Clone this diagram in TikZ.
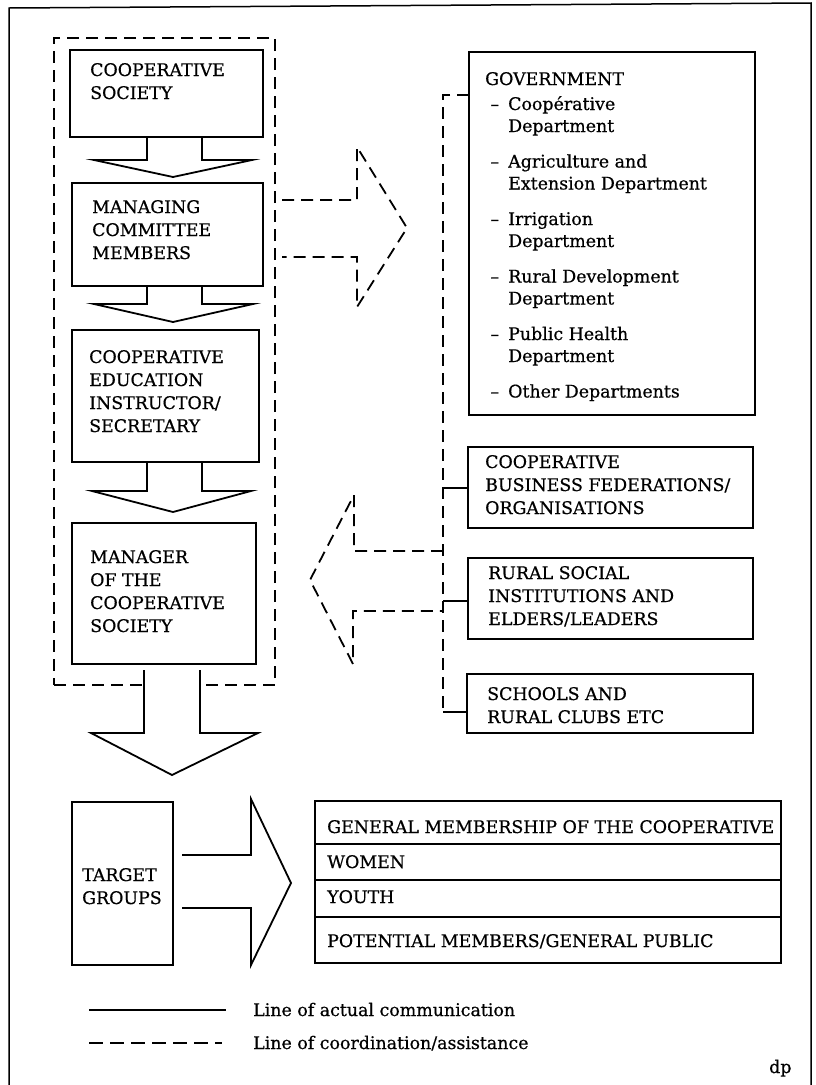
\documentclass[tikz,border=0pt]{standalone}
\usepackage{fontspec}
\setmainfont{DejaVu Serif}[FakeBold=0.6]
% left-aligned block of lines whose baseline is the first line's baseline
\newcommand\mlines[1]{\begin{tabular}[t]{@{}l@{}}#1\end{tabular}}
\newcommand\itemdash{\llap{–\hspace{9pt}}}

\begin{document}
\begin{tikzpicture}[x=1pt,y=-1pt,
  box/.style={draw, line width=2pt, anchor=north west, inner sep=0pt, outer sep=0pt},
  group/.style={draw, line width=1.8pt, dash pattern=on 12pt off 7pt, anchor=north west, inner sep=0pt, outer sep=0pt},
  txt/.style={inner sep=0pt, anchor=base west, font=\fontsize{17.4}{23}\selectfont},
  flow/.style={line width=1.8pt, line join=miter},
  coord/.style={line width=1.8pt, dash pattern=on 12pt off 7pt},
  frame/.style={line width=1.5pt}]

\useasboundingbox (0,0) rectangle (815,1085);

% page frame
\draw[frame] (9,1085) -- (9,8) -- (811,3) -- (811,1085);

% cooperative group (dashed)
\node[group, minimum width=221pt, minimum height=647pt] (grp) at (54,38) {};

% boxes of the cooperative chain
\node[box, minimum width=193pt, minimum height=87pt]  (b1) at (70,50) {};
\node[box, minimum width=191pt, minimum height=103pt] (b2) at (72,183) {};
\node[box, minimum width=187pt, minimum height=132pt] (b3) at (72,330) {};
\node[box, minimum width=184pt, minimum height=141pt] (b4) at (72,523) {};

\node[txt] (t1) at (90,76)  {\mlines{COOPERATIVE\\SOCIETY}};
\node[txt] (t2) at (92,213) {\mlines{MANAGING\\COMMITTEE\\MEMBERS}};
\node[txt] (t3) at (89,363) {\mlines{COOPERATIVE\\EDUCATION\\INSTRUCTOR/\\SECRETARY}};
\node[txt] (t4) at (90,563) {\mlines{MANAGER\\OF THE\\COOPERATIVE\\SOCIETY}};

% block arrows between the chain boxes
\draw[flow] (147,137) -- (147,160) -- (94,160) -- (173,177) -- (252,160) -- (202,160) -- (202,137);
\draw[flow] (147,286) -- (147,304) -- (94,304) -- (173,322) -- (253,304) -- (202,304) -- (202,286);
\draw[flow] (147,462) -- (147,491) -- (92,491) -- (173,512) -- (251,491) -- (202,491) -- (202,462);

% big arrow down to the target groups
\path[fill=white] (144,670) -- (144,733) -- (91,733) -- (172,775) -- (258,733) -- (200,733) -- (200,670) -- cycle;
\draw[flow] (144,670) -- (144,733) -- (91,733) -- (172,775) -- (258,733) -- (200,733) -- (200,670);

% partner organisations
\node[box, minimum width=286pt, minimum height=363pt] (gov)    at (469,52)  {};
\node[box, minimum width=285pt, minimum height=81pt]  (coop)   at (468,447) {};
\node[box, minimum width=285pt, minimum height=81pt]  (rural)  at (468,558) {};
\node[box, minimum width=286pt, minimum height=59pt]  (school) at (467,674) {};

\node[txt] (tgov) at (485,85) {GOVERNMENT};
\node[txt, font=\fontsize{17.4}{22}\selectfont] (tgovlist) at (508,110) {\mlines{%
  \itemdash Coopérative\\Department\\[13.5pt]
  \itemdash Agriculture and\\Extension Department\\[13.5pt]
  \itemdash Irrigation\\Department\\[13.5pt]
  \itemdash Rural Development\\Department\\[13.5pt]
  \itemdash Public Health\\Department\\[13.5pt]
  \itemdash Other Departments}};
\node[txt] (tcoop)   at (485,468) {\mlines{COOPERATIVE\\BUSINESS FEDERATIONS/\\ORGANISATIONS}};
\node[txt] (trural)  at (488,579) {\mlines{RURAL SOCIAL\\INSTITUTIONS AND\\ELDERS/LEADERS}};
\node[txt] (tschool) at (487,700) {\mlines{SCHOOLS AND\\RURAL CLUBS ETC}};

% coordination bus linking the partners
\coordinate (busTop)    at (443,95);
\coordinate (busEnd)    at (443,712);
\coordinate (busCoop)   at (443,488);
\coordinate (busRural)  at (443,601);
\draw[coord] (gov.west |- busTop) -- (busTop) -- (busEnd);
\draw[flow] (busEnd) -- (busEnd -| school.west);
\draw[flow] (busCoop) -- (busCoop -| coop.west);
\draw[flow] (busRural) -- (busRural -| rural.west);

% dashed block arrows (coordination / assistance)
\draw[coord] (282,200) -- (357,200) -- (357,147) -- (407,228) -- (357,307) -- (357,257) -- (282,257);
\draw[coord] (443,551) -- (354,551) -- (354,495) -- (310,580) -- (353,664) -- (353,611) -- (443,611);

% target groups
\node[box, minimum width=101pt, minimum height=163pt] (target) at (72,802) {};
\node[txt] (ttarget) at (82,881) {\mlines{TARGET\\GROUPS}};

\draw[flow] (182,855) -- (251,855) -- (251,799) -- (291,883) -- (251,965) -- (251,908) -- (182,908);

\node[box, minimum width=466pt, minimum height=43pt] (r1) at (315,801) {};
\node[box, minimum width=466pt, minimum height=36pt] (r2) at (315,844) {};
\node[box, minimum width=466pt, minimum height=37pt] (r3) at (315,880) {};
\node[box, minimum width=466pt, minimum height=46pt] (r4) at (315,917) {};
\node[txt] (tr1) at (327,833) {GENERAL MEMBERSHIP OF THE COOPERATIVE};
\node[txt] (tr2) at (327,868) {WOMEN};
\node[txt] (tr3) at (327,903) {YOUTH};
\node[txt] (tr4) at (327,947) {POTENTIAL MEMBERS/GENERAL PUBLIC};

% legend
\coordinate (ls1) at (89,1010);  \coordinate (le1) at (226,1010);
\coordinate (ls2) at (89,1043);  \coordinate (le2) at (222,1043);
\draw[flow] (ls1) -- (le1);
\draw[coord, dash pattern=on 14pt off 7pt] (ls2) -- (le2);
\node[txt] (leg1) at (253,1016) {Line of actual communication};
\node[txt] (leg2) at (253,1049) {Line of coordination/assistance};
\node[txt] (dp) at (769,1073) {dp};
\end{tikzpicture}
\end{document}
